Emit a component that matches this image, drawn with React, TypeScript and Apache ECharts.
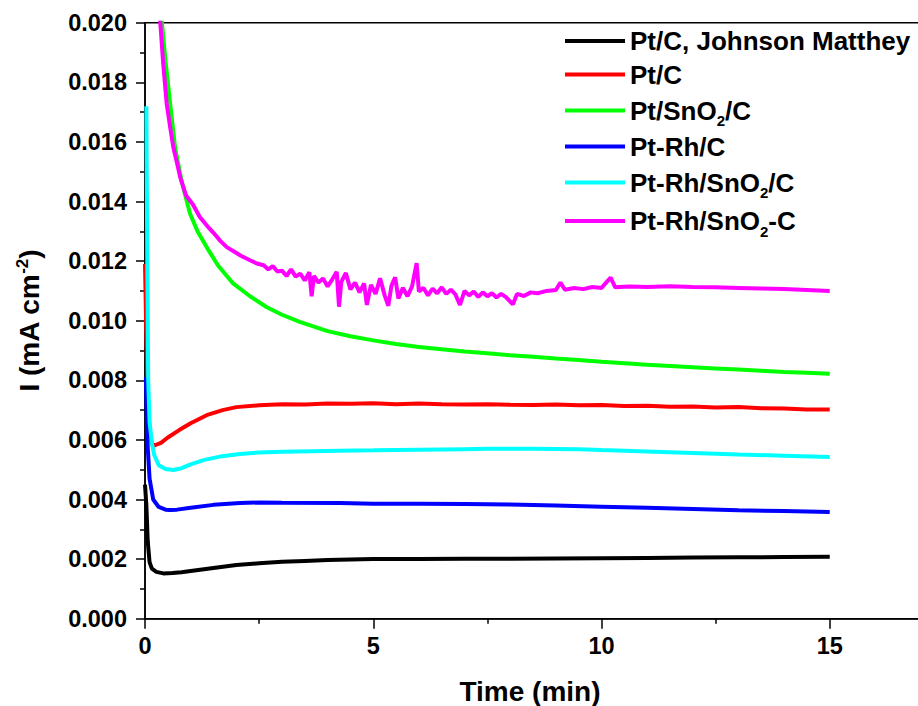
import React, { useEffect, useRef } from "react";
import * as echarts from "echarts";

const seriesNames = [
  "Pt/C, Johnson Matthey",
  "Pt/C",
  "Pt/SnO2/C",
  "Pt-Rh/C",
  "Pt-Rh/SnO2/C",
  "Pt-Rh/SnO2-C",
];
const seriesColors = ["#000000", "#ff0000", "#00ff00", "#0000ff", "#00ffff", "#ff00ff"];

const xTicks = [0, 5, 10, 15, 20];
const yTicks = [0, 0.002, 0.004, 0.006, 0.008, 0.01, 0.012, 0.014, 0.016, 0.018, 0.02];

const ptcJM: [number, number][] = [
  [0.0, 0.0045], [0.03, 0.0038], [0.06, 0.0026], [0.1, 0.0019], [0.15, 0.00168],
  [0.25, 0.00157], [0.4, 0.00152], [0.6, 0.00153], [0.8, 0.00156], [1.0, 0.0016],
  [1.5, 0.0017], [2.0, 0.0018], [2.5, 0.00186], [3, 0.00191], [3.5, 0.00194],
  [4, 0.00197], [5, 0.002], [6, 0.002], [7, 0.00201], [8, 0.00201], [9, 0.00202],
  [10, 0.00203], [11, 0.00204], [12, 0.00205], [13, 0.00206], [14, 0.00207], [15, 0.00208],
];

const ptc: [number, number][] = [
  [0.0, 0.0119], [0.03, 0.0095], [0.06, 0.0075], [0.1, 0.0063], [0.15, 0.00585],
  [0.22, 0.00582], [0.35, 0.0059], [0.5, 0.00608], [0.75, 0.00633], [1.0, 0.00656],
  [1.35, 0.00683], [1.7, 0.007], [2.0, 0.0071], [2.5, 0.00716], [3, 0.0072],
  [3.5, 0.00719], [4, 0.00722], [4.5, 0.00721], [5, 0.00723], [5.5, 0.0072],
  [6, 0.00722], [6.5, 0.0072], [7, 0.00719], [7.5, 0.0072], [8, 0.00718],
  [8.5, 0.00717], [9, 0.00719], [9.5, 0.00716], [10, 0.00717], [10.5, 0.00714],
  [11, 0.00715], [11.5, 0.00711], [12, 0.00712], [12.5, 0.00709], [13, 0.0071],
  [13.5, 0.00706], [14, 0.00705], [14.5, 0.00702], [15, 0.00702],
];

const ptSnO2C: [number, number][] = [
  [0.3, 0.0212], [0.365, 0.0201], [0.45, 0.0187], [0.55, 0.0173], [0.66, 0.0158],
  [0.8, 0.0147], [0.985, 0.0136], [1.15, 0.013], [1.35, 0.01247], [1.6, 0.01185],
  [1.93, 0.01125], [2.3, 0.01082], [2.66, 0.01046], [3.0, 0.0102], [3.39, 0.00996],
  [4.0, 0.00965], [4.5, 0.00948], [5, 0.00934], [5.5, 0.00922], [6, 0.00912],
  [6.5, 0.00904], [7, 0.00897], [7.5, 0.00891], [8, 0.00884], [8.5, 0.00879],
  [9, 0.00873], [9.5, 0.00868], [10, 0.00862], [10.5, 0.00857], [11, 0.00852],
  [11.5, 0.00848], [12, 0.00844], [12.5, 0.0084], [13, 0.00836], [13.5, 0.00832],
  [14, 0.00828], [14.5, 0.00825], [15, 0.00822],
];

const ptRhC: [number, number][] = [
  [0.02, 0.0081], [0.05, 0.006], [0.1, 0.0047], [0.18, 0.004], [0.3, 0.00375],
  [0.45, 0.00366], [0.55, 0.00365], [0.7, 0.00366], [1.0, 0.00372], [1.5, 0.00382],
  [2.08, 0.00388], [2.5, 0.0039], [3, 0.00389], [4.27, 0.00388], [5, 0.00386],
  [6, 0.00386], [7, 0.00385], [8, 0.00383], [9, 0.0038], [10, 0.00376],
  [11, 0.00372], [12, 0.00368], [13, 0.00364], [14, 0.00361], [15, 0.00358],
];

const ptRhSnO2C: [number, number][] = [
  [0.03, 0.0172], [0.05, 0.012], [0.07, 0.008], [0.1, 0.0066], [0.15, 0.0059],
  [0.2, 0.0055], [0.3, 0.00515], [0.45, 0.00502], [0.62, 0.00499], [0.8, 0.00505],
  [1.0, 0.00518], [1.3, 0.00533], [1.64, 0.00544], [2.08, 0.00553], [2.5, 0.00558],
  [3, 0.0056], [4.27, 0.00564], [5, 0.00565], [6, 0.00567], [7, 0.00569],
  [7.5, 0.0057], [8.5, 0.0057], [9.5, 0.00569], [10, 0.00566], [11, 0.00561],
  [12, 0.00556], [13, 0.00551], [14, 0.00547], [15, 0.00543],
];

const ptRhSnO2dashC: [number, number][] = [
  [0.28, 0.021], [0.33, 0.0201], [0.4, 0.0186], [0.475, 0.01728], [0.55, 0.0165],
  [0.62, 0.01582], [0.7, 0.0153], [0.77, 0.01482], [0.9, 0.0142], [1.05, 0.0139],
  [1.2, 0.01348], [1.35, 0.0132], [1.5, 0.01295], [1.65, 0.01268], [1.79, 0.01247],
  [1.95, 0.01232], [2.1, 0.01218], [2.3, 0.01203], [2.45, 0.01192], [2.6, 0.01186],
  [2.7, 0.01172], [2.8, 0.01183], [2.9, 0.01165], [3.0, 0.01168], [3.1, 0.0115],
  [3.2, 0.01172], [3.3, 0.01148], [3.4, 0.01158], [3.5, 0.01135], [3.6, 0.01163],
  [3.65, 0.01082], [3.7, 0.0115], [3.8, 0.01128], [3.9, 0.01142], [4.0, 0.01115],
  [4.1, 0.01138], [4.2, 0.01164], [4.25, 0.01047], [4.3, 0.0113], [4.4, 0.0116],
  [4.5, 0.01105], [4.6, 0.01128], [4.7, 0.01095], [4.8, 0.01125], [4.86, 0.01053],
  [4.95, 0.0112], [5.05, 0.0109], [5.15, 0.01142], [5.25, 0.01085], [5.33, 0.0105],
  [5.4, 0.01118], [5.48, 0.01146], [5.55, 0.01075], [5.65, 0.0111], [5.75, 0.01082],
  [5.85, 0.01115], [5.95, 0.01193], [6.0, 0.01098], [6.1, 0.0111], [6.2, 0.01085],
  [6.3, 0.01108], [6.4, 0.01092], [6.5, 0.01112], [6.6, 0.0109], [6.7, 0.01104],
  [6.8, 0.01088], [6.9, 0.01053], [7.0, 0.011], [7.1, 0.01085], [7.2, 0.01098],
  [7.3, 0.0108], [7.4, 0.01095], [7.5, 0.01082], [7.6, 0.01092], [7.7, 0.01078],
  [7.8, 0.0109], [7.9, 0.0108], [8.06, 0.01055], [8.15, 0.0109], [8.3, 0.01083],
  [8.45, 0.01095], [8.6, 0.01092], [8.8, 0.011], [9.0, 0.01103], [9.1, 0.01128],
  [9.2, 0.01104], [9.4, 0.0111], [9.6, 0.01106], [9.8, 0.01113], [10.0, 0.0111],
  [10.2, 0.01145], [10.3, 0.01112], [10.6, 0.01115], [11.0, 0.01113], [11.5, 0.01116],
  [12.0, 0.01113], [12.5, 0.01112], [13.0, 0.0111], [13.5, 0.01108], [14.0, 0.01106],
  [14.5, 0.01103], [15.0, 0.011],
];

const seriesData = [ptcJM, ptc, ptSnO2C, ptRhC, ptRhSnO2C, ptRhSnO2dashC];

const FONT = "'Liberation Sans', Arial, sans-serif";

export default function App() {
  const ref = useRef<HTMLDivElement>(null);

  useEffect(() => {
    if (!ref.current) return;
    const chart = echarts.init(ref.current, null, { renderer: "svg" });
    const option: any = {
      animation: false,
      backgroundColor: "#ffffff",
      grid: {
        left: 145,
        top: 22.7,
        height: 596,
        width: 913,
        outerBoundsMode: "none",
        containLabel: false,
        show: true,
        borderColor: "#000",
        borderWidth: 1.5,
        backgroundColor: "transparent",
      },
      legend: {
        orient: "vertical",
        left: 560,
        top: 21,
        itemWidth: 60,
        itemHeight: 4,
        itemGap: 3.5,
        icon: "rect",
        data: seriesNames,
        textStyle: {
          fontFamily: FONT,
          fontWeight: "bold",
          fontSize: 26,
          color: "#000",
          lineHeight: 30,
          padding: [0, 0, 0, 0],
          rich: {
            sub: {
              fontFamily: FONT,
              fontWeight: "bold",
              fontSize: 15,
              lineHeight: 15,
              color: "#000",
              padding: [20, 0, 0, 0],
            },
          },
        },
        formatter: (name: string) => name.replace(/SnO2/g, "SnO{sub|2}"),
      },
      xAxis: {
        type: "value",
        min: xTicks[0],
        max: xTicks[xTicks.length - 1],
        interval: 5,
        axisLine: { show: true, onZero: false, lineStyle: { color: "#000", width: 1.5 } },
        axisTick: { show: true, length: 10, lineStyle: { color: "#000", width: 1.5 } },
        minorTick: { show: true, splitNumber: 2, length: 5, lineStyle: { color: "#000", width: 1.5 } },
        splitLine: { show: false },
        axisLabel: {
          margin: 15,
          showMaxLabel: false,
          fontFamily: FONT,
          fontWeight: "bold",
          fontSize: 23.5,
          color: "#000",
          formatter: (v: number) => (v > 15 ? "" : String(v)),
        },
      },
      yAxis: {
        type: "value",
        min: yTicks[0],
        max: yTicks[yTicks.length - 1],
        interval: 0.002,
        name: "I (mA cm{sup|-2})",
        nameLocation: "middle",
        nameRotate: 90,
        nameGap: 100,
        nameTextStyle: {
          fontFamily: FONT,
          fontWeight: "bold",
          fontSize: 28,
          color: "#000",
          rich: {
            sup: {
              fontFamily: FONT,
              fontWeight: "bold",
              fontSize: 17,
              color: "#000",
              padding: [0, 0, 14, 0],
            },
          },
        },
        axisLine: { show: true, lineStyle: { color: "#000", width: 1.5 } },
        axisTick: { show: true, length: 9, lineStyle: { color: "#000", width: 1.5 } },
        minorTick: { show: true, splitNumber: 2, length: 5, lineStyle: { color: "#000", width: 1.5 } },
        splitLine: { show: false },
        axisLabel: {
          margin: 18,
          fontFamily: FONT,
          fontWeight: "bold",
          fontSize: 23.5,
          color: "#000",
          formatter: (v: number) => v.toFixed(3),
        },
      },
      graphic: [
        {
          type: "text",
          x: 530,
          y: 691,
          style: {
            text: "Time (min)",
            fontFamily: FONT,
            fontWeight: "bold",
            fontSize: 28,
            fill: "#000",
            align: "center",
            verticalAlign: "middle",
          },
        },
      ],
      series: seriesNames.map((name, i) => ({
        name,
        type: "line",
        data: seriesData[i],
        symbol: "none",
        showSymbol: false,
        clip: true,
        color: seriesColors[i],
        lineStyle: { color: seriesColors[i], width: 4 },
        itemStyle: { color: seriesColors[i] },
      })),
    };
    chart.setOption(option);
    return () => chart.dispose();
  }, []);

  return (
    <div
      ref={ref}
      style={{ position: "fixed", left: 0, top: 0, width: 918, height: 706, background: "#fff" }}
    />
  );
}
